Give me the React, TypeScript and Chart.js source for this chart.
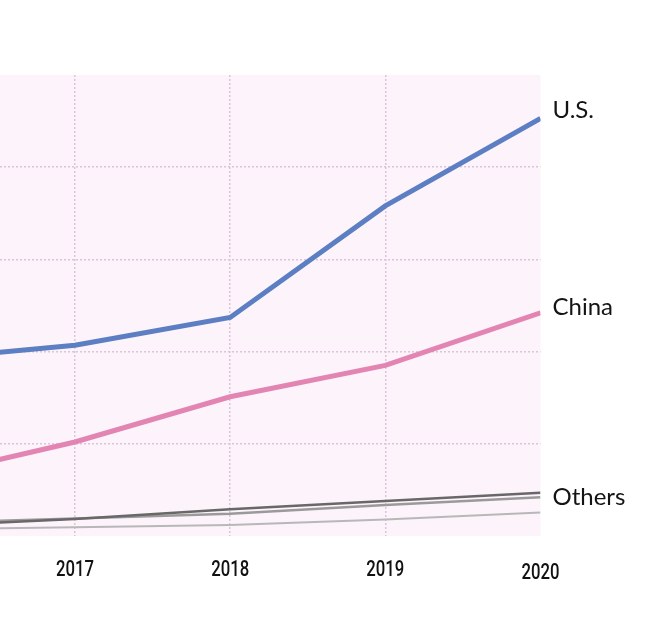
import React, { useEffect, useRef } from "react";
import { Chart, registerables } from "chart.js";

Chart.register(...registerables);

const years = [2016, 2017, 2018, 2019, 2020];
const usValues = [19.1, 20.7, 23.7, 35.8, 45.3];
const chinaValues = [6.3, 10.2, 15.1, 18.5, 24.2];
const othersDark = [1.05, 1.85, 2.9, 3.8, 4.7];
const othersMid = [1.4, 1.9, 2.4, 3.35, 4.2];
const othersLight = [0.75, 0.95, 1.2, 1.8, 2.55];
const endLabels = ["U.S.", "China", "", "Others", ""];
const tickYears = [2017, 2018, 2019, 2020];

const GRID = "#dcc4dc";

const bgPlugin = {
  id: "plotBg",
  beforeDraw(chart: any) {
    const { ctx, chartArea } = chart;
    ctx.save();
    ctx.fillStyle = "#fdf3fa";
    ctx.fillRect(chartArea.left, chartArea.top, chartArea.right - chartArea.left, chartArea.bottom - chartArea.top);
    ctx.restore();
  },
};

// Condensed year labels, positioned by the x scale
const condensedTicksPlugin = {
  id: "condensedTicks",
  afterDraw(chart: any) {
    const { ctx, chartArea } = chart;
    const xs = chart.scales.x;
    ctx.save();
    ctx.font = "500 22px Roboto";
    ctx.fillStyle = "#111";
    ctx.textBaseline = "middle";
    ctx.textAlign = "center";
    xs.ticks.forEach((t: any, i: number) => {
      const label = String(t.value);
      const px = xs.getPixelForValue(t.value);
      const w = ctx.measureText(label).width;
      const sx = 38 / w;
      const extra = i === xs.ticks.length - 1 ? 3 : 0;
      ctx.save();
      ctx.translate(px, chartArea.bottom + 34 + extra);
      ctx.scale(sx, 1);
      ctx.fillText(label, 0, 0);
      ctx.restore();
    });
    ctx.restore();
  },
};

const endLabelPlugin = {
  id: "endLabels",
  afterDatasetsDraw(chart: any) {
    const { ctx, chartArea } = chart;
    ctx.save();
    ctx.font = "24px Lato";
    ctx.fillStyle = "#141414";
    ctx.textBaseline = "middle";
    ctx.textAlign = "left";
    chart.data.datasets.forEach((ds: any, i: number) => {
      const text = endLabels[i];
      if (!text) return;
      const meta = chart.getDatasetMeta(i);
      const pt = meta.data[meta.data.length - 1];
      ctx.fillText(text, chartArea.right + 12, pt.y + (ds.labelShift || 0));
    });
    ctx.restore();
  },
};

export default function App() {
  const ref = useRef<HTMLCanvasElement>(null);
  useEffect(() => {
    if (!ref.current) return;
    const mk = (vals: number[]) => vals.map((v, i) => ({ x: years[i], y: v }));
    const chart = new Chart(ref.current, {
      type: "line",
      data: {
        datasets: [
          { label: "U.S.", data: mk(usValues), borderColor: "#5c7ec2", borderWidth: 5, pointRadius: 0, labelShift: -8 } as any,
          { label: "China", data: mk(chinaValues), borderColor: "#e385b2", borderWidth: 5, pointRadius: 0, labelShift: -6 } as any,
          { label: "Others A", data: mk(othersDark), borderColor: "#686868", borderWidth: 2.5, pointRadius: 0 },
          { label: "Others B", data: mk(othersMid), borderColor: "#9a9a9a", borderWidth: 2.5, pointRadius: 0, labelShift: 0 } as any,
          { label: "Others C", data: mk(othersLight), borderColor: "#b8b8b8", borderWidth: 2, pointRadius: 0 },
        ],
      },
      options: {
        responsive: false,
        animation: false,
        layout: { padding: { top: 75, right: 112.5, left: 0, bottom: 0 } },
        plugins: { legend: { display: false }, tooltip: { enabled: false } },
        scales: {
          x: {
            type: "linear",
            min: 2016.517,
            max: 2020,
            afterBuildTicks: (s: any) => {
              s.ticks = tickYears.map((v) => ({ value: v }));
            },
            afterFit: (s: any) => {
              s.height = 102;
            },
            ticks: {
              display: false,
              callback: (v: any) => String(v),
              maxRotation: 0,
              autoSkip: false,
            },
            grid: {
              color: (c: any) => (c.tick && c.tick.value === 2020 ? "transparent" : GRID),
              lineWidth: 1.5,
              drawTicks: false,
            },
            border: { display: false, dash: [2, 2] },
          },
          y: {
            min: 0,
            max: 50,
            ticks: { display: false, stepSize: 10 },
            afterFit: (s: any) => {
              s.width = 0;
            },
            grid: {
              color: (c: any) => (c.tick && (c.tick.value === 0 || c.tick.value === 50) ? "transparent" : GRID),
              lineWidth: 1.5,
              drawTicks: false,
            },
            border: { display: false, dash: [2, 2] },
          },
        },
      } as any,
      plugins: [bgPlugin, condensedTicksPlugin, endLabelPlugin],
    });
    return () => chart.destroy();
  }, []);
  return (
    <div style={{ position: "absolute", left: 0, top: 0, width: 653, height: 638, background: "#fff" }}>
      <canvas ref={ref} width={653} height={638} style={{ width: 653, height: 638, display: "block" }} />
    </div>
  );
}
